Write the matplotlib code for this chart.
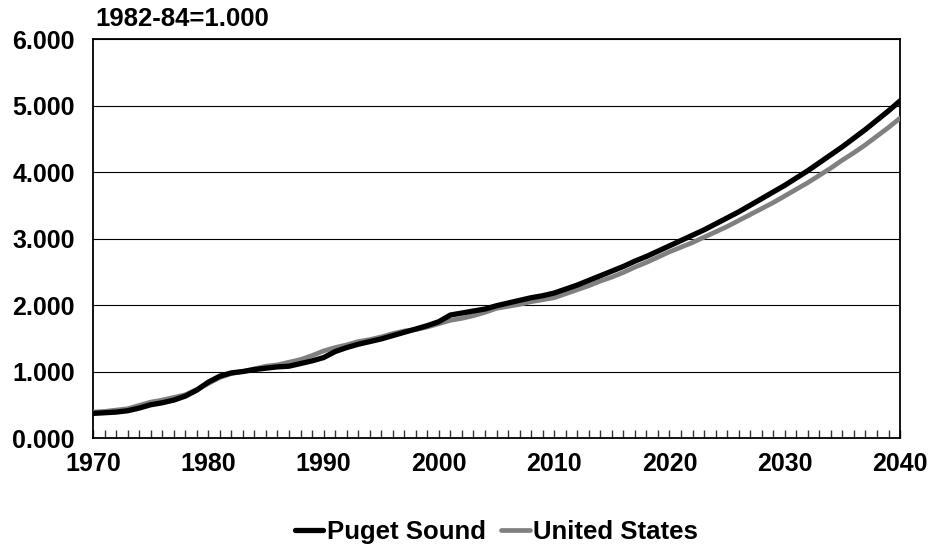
import matplotlib
matplotlib.use("Agg")
import matplotlib.pyplot as plt
from matplotlib.ticker import MultipleLocator, FormatStrFormatter

plt.rcParams['font.family'] = ['Liberation Sans', 'DejaVu Sans']
plt.rcParams['font.weight'] = 'bold'

years = list(range(1970, 2041))

# consumer price index, 1982-84 = 1.000
puget_sound = [
    0.37, 0.38, 0.39, 0.41, 0.45, 0.50, 0.53, 0.57, 0.63, 0.72,   # 1970s
    0.84, 0.93, 0.98, 1.00, 1.03, 1.05, 1.07, 1.08, 1.12, 1.16,   # 1980s
    1.21, 1.30, 1.36, 1.41, 1.45, 1.49, 1.54, 1.59, 1.64, 1.69,   # 1990s
    1.75, 1.85, 1.88, 1.91, 1.94, 1.99, 2.03, 2.07, 2.11, 2.14,   # 2000s
    2.18, 2.24, 2.30, 2.37, 2.44, 2.51, 2.58, 2.66, 2.73, 2.81,   # 2010s
    2.89, 2.97, 3.05, 3.13, 3.22, 3.31, 3.40, 3.50, 3.60, 3.70,   # 2020s
    3.80, 3.91, 4.02, 4.14, 4.26, 4.38, 4.51, 4.64, 4.78, 4.92,   # 2030s
    5.07,
]
united_states = [
    0.39, 0.40, 0.42, 0.44, 0.49, 0.54, 0.57, 0.61, 0.65, 0.73,
    0.82, 0.91, 0.97, 1.00, 1.04, 1.08, 1.10, 1.14, 1.18, 1.24,
    1.31, 1.36, 1.40, 1.45, 1.48, 1.52, 1.57, 1.61, 1.63, 1.67,
    1.72, 1.77, 1.80, 1.84, 1.89, 1.95, 1.98, 2.01, 2.05, 2.08,
    2.11, 2.17, 2.23, 2.29, 2.36, 2.42, 2.49, 2.57, 2.64, 2.72,
    2.80, 2.87, 2.94, 3.02, 3.10, 3.18, 3.27, 3.36, 3.45, 3.54,
    3.64, 3.74, 3.84, 3.95, 4.06, 4.18, 4.29, 4.41, 4.54, 4.67,
    4.81,
]

fig = plt.figure(figsize=(9.35, 5.5), dpi=100)
ax = fig.add_axes([0.0995, 0.2036, 0.8631, 0.7254])

ax.plot(years, united_states, color='#808080', lw=3.4, solid_capstyle='round',
        label='United States', zorder=3)
ax.plot(years, puget_sound, color='black', lw=3.8, solid_capstyle='round',
        label='Puget Sound', zorder=4)

ax.set_xlim(1970, 2040)
ax.set_ylim(0, 6)
ax.yaxis.set_major_locator(MultipleLocator(1))
ax.yaxis.set_major_formatter(FormatStrFormatter('%.3f'))
ax.xaxis.set_major_locator(MultipleLocator(10))
ax.xaxis.set_minor_locator(MultipleLocator(1))

ax.grid(axis='y', color='black', lw=0.8)
ax.set_axisbelow(True)
for s in ax.spines.values():
    s.set_linewidth(1.3)
    s.set_color('black')

ax.tick_params(axis='y', length=0, pad=13, labelsize=18)
ax.tick_params(axis='x', which='both', direction='in', length=6, width=1,
               color='#333333', pad=10, labelsize=18)

ax.text(0.003, 1.02, '1982-84=1.000', transform=ax.transAxes, fontsize=18.5,
        fontweight='bold', ha='left', va='bottom')

h, l = ax.get_legend_handles_labels()
fig.legend(h[::-1], l[::-1], loc='center', bbox_to_anchor=(0.531, 0.032), ncol=2,
           frameon=False, fontsize=18.5, handlelength=1.1, handletextpad=0.15,
           columnspacing=0.6)

fig.savefig('out.png', dpi=100)
